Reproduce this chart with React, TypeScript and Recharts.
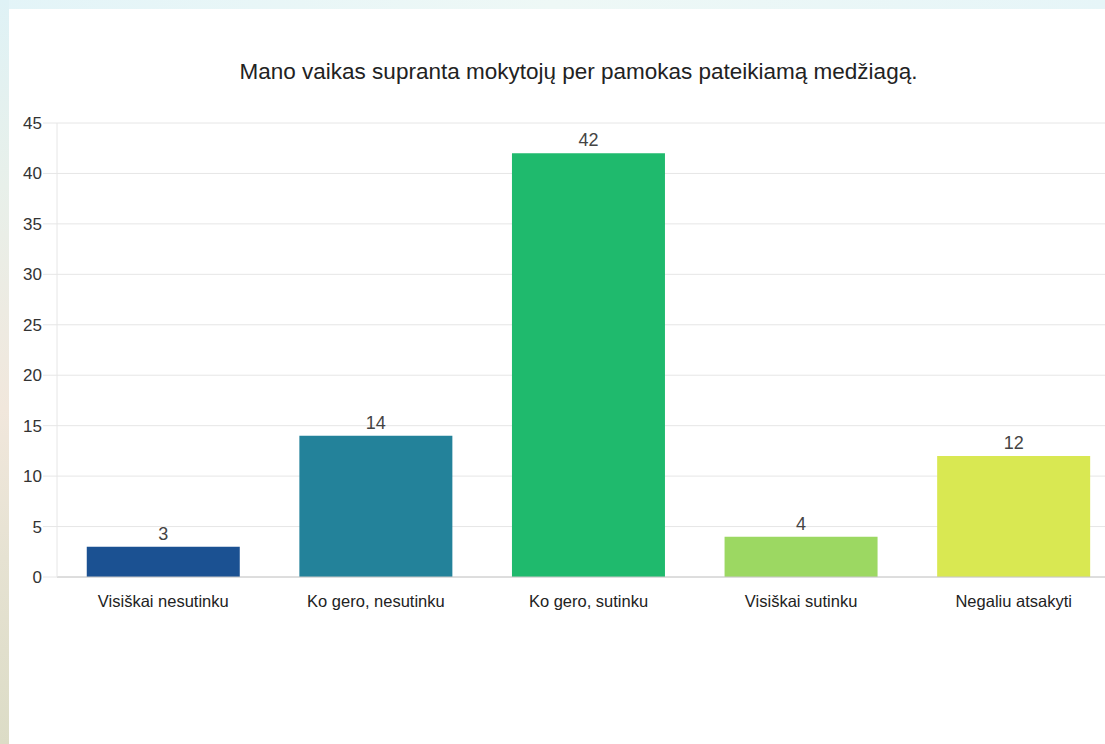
import React from "react";
import { BarChart, Bar, XAxis, YAxis, CartesianGrid, Cell, LabelList } from "recharts";

const categories = [
  "Visiškai nesutinku",
  "Ko gero, nesutinku",
  "Ko gero, sutinku",
  "Visiškai sutinku",
  "Negaliu atsakyti",
];
const counts = [3, 14, 42, 4, 12];
const yTicks = [0, 5, 10, 15, 20, 25, 30, 35, 40, 45];
const barColors = ["#1b5192", "#23829a", "#1fba6d", "#9cd862", "#d9e852"];

const data = categories.map((name, i) => ({ name, value: counts[i] }));

const FONT = "'Liberation Sans', Arial, sans-serif";

export default function App() {
  return (
    <div
      style={{
        position: "fixed",
        left: 0,
        top: 0,
        width: 1105,
        height: 744,
        overflow: "hidden",
        background: "linear-gradient(90deg, #e3f4f8 0%, #eef8f6 50%, #e6f5f8 100%)",
        fontFamily: FONT,
      }}
    >
      {/* left strip of the slide background */}
      <div
        style={{
          position: "absolute",
          left: 0,
          top: 0,
          width: 9,
          height: 744,
          background: "linear-gradient(180deg, #dff2f6 0%, #e8f0ea 25%, #f1e7dc 55%, #e6e2d2 75%, #dcdcc6 100%)",
        }}
      />
      <div style={{ position: "absolute", left: 9, top: 9, right: 0, bottom: 0, background: "#fff" }} />
      <div
        style={{
          position: "absolute",
          left: 0,
          width: 1157,
          top: 58,
          textAlign: "center",
          fontSize: 22.5,
          lineHeight: "28px",
          color: "#222",
          fontFamily: FONT,
        }}
      >
        Mano vaikas supranta mokytojų per pamokas pateikiamą medžiagą.
      </div>
      <div style={{ position: "absolute", left: 0, top: 0 }}>
        <BarChart
          width={1125}
          height={744}
          data={data}
          margin={{ top: 123, right: 5, left: 0, bottom: 0 }}
          barCategoryGap="14%"
        >
          <CartesianGrid vertical={false} stroke="#e6e6e6" />
          <XAxis
            dataKey="name"
            height={167}
            tickLine={false}
            tickSize={12}
            tickMargin={6}
            axisLine={{ stroke: "#c8c8c8" }}
            tick={{ fontSize: 16.5, fill: "#222", fontFamily: FONT }}
            interval={0}
          />
          <YAxis
            width={57}
            domain={[0, 45]}
            ticks={yTicks}
            tickSize={14}
            tickMargin={1}
            axisLine={{ stroke: "#e6e6e6" }}
            tickLine={{ stroke: "#e6e6e6" }}
            tick={{ fontSize: 17, fill: "#333", fontFamily: FONT }}
            interval={0}
          />
          <Bar dataKey="value" isAnimationActive={false}>
            {data.map((_, i) => (
              <Cell key={`c-${i}`} fill={barColors[i]} />
            ))}
            <LabelList
              dataKey="value"
              position="top"
              offset={7}
              style={{ fontSize: 18, fill: "#444", fontFamily: FONT }}
            />
          </Bar>
        </BarChart>
      </div>
    </div>
  );
}
